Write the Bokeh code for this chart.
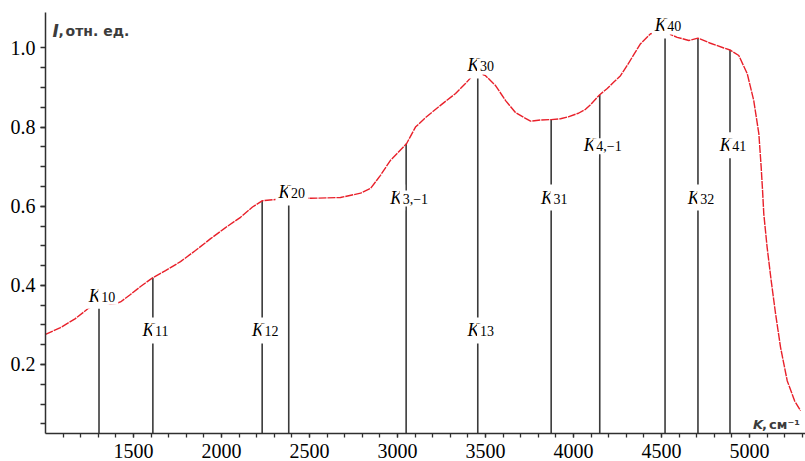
from bokeh.plotting import figure
from bokeh.models import ColumnDataSource, FixedTicker, Label, Range1d
from bokeh.core.properties import value
from bokeh.embed import file_html
from bokeh.resources import INLINE

# ---- data ----
wavenumber = [1000, 1085, 1170, 1244, 1301, 1340, 1369, 1400, 1426, 1483, 1540, 1608,
              1682, 1767, 1852, 1938, 2023, 2108, 2176, 2233, 2307, 2386, 2506, 2676,
              2790, 2847, 2903, 2960, 3051, 3102, 3159, 3244, 3330, 3386, 3426, 3456,
              3500, 3557, 3614, 3670, 3727, 3756, 3812, 3873, 3926, 3970, 4028, 4068,
              4097, 4149, 4190, 4229, 4267, 4305, 4345, 4381, 4438, 4520, 4589, 4655,
              4707, 4778, 4854, 4889, 4939, 4987, 5024, 5053, 5066, 5074, 5081, 5100,
              5123, 5148, 5176, 5214, 5256, 5290]
intensity = [0.276, 0.293, 0.316, 0.342, 0.354, 0.356, 0.352, 0.354, 0.358, 0.377, 0.397, 0.419,
             0.437, 0.460, 0.488, 0.518, 0.546, 0.572, 0.598, 0.614, 0.617, 0.620, 0.620, 0.622,
             0.633, 0.645, 0.678, 0.716, 0.758, 0.800, 0.824, 0.855, 0.885, 0.910, 0.930, 0.937,
             0.930, 0.905, 0.867, 0.837, 0.822, 0.815, 0.818, 0.819, 0.821, 0.826, 0.835, 0.845,
             0.857, 0.882, 0.897, 0.914, 0.930, 0.956, 0.985, 1.011, 1.036, 1.040, 1.027, 1.019,
             1.025, 1.012, 1.000, 0.995, 0.981, 0.935, 0.867, 0.783, 0.700, 0.640, 0.581, 0.496,
             0.412, 0.328, 0.244, 0.159, 0.108, 0.083]

# vertical marker lines: position and the curve value at their top
line_k = [1304, 1610, 2231, 2382, 3049, 3456, 3873, 4149, 4520, 4707, 4889]
line_top = [0.354, 0.419, 0.614, 0.619, 0.758, 0.937, 0.819, 0.882, 1.040, 1.025, 0.995]

# labels K_sub
label_sub = ["10", "11", "12", "20", "3,\u22121", "13", "30", "31", "4,\u22121", "40", "32", "41"]
label_x = [1304, 1610, 2231, 2382, 3049, 3456, 3456, 3873, 4149, 4520, 4707, 4889]
label_y = [0.374, 0.286, 0.286, 0.635, 0.622, 0.286, 0.956, 0.622, 0.754, 1.057, 0.622, 0.754]

x_major = [1500, 2000, 2500, 3000, 3500, 4000, 4500, 5000]
x_labels = ["1500", "2000", "2500", "3000", "3500", "4000", "4500", "5000"]
x_minor = list(range(1100, 5400, 100))
y_major = [0.2, 0.4, 0.6, 0.8, 1.0]
y_labels = ["0.2", "0.4", "0.6", "0.8", "1.0"]
y_minor = [round(0.05 * i, 2) for i in range(1, 20)]

y_title = "\u043e\u0442\u043d. \u0435\u0434."
x_title = "\u0441\u043c\u207b\u00b9"

# ---- layout ----
Y0, Y1 = 0.0255, 1.0897
X0, X1 = 1000, 5318

p = figure(width=805, height=461, output_backend="svg", toolbar_location=None,
           x_range=Range1d(X0, X1), y_range=Range1d(Y0, Y1),
           min_border_left=45, min_border_right=0, min_border_top=12, min_border_bottom=28)
p.outline_line_color = None
p.grid.visible = False
p.background_fill_color = "white"

AX = "#2f2f2f"
for ax in (p.xaxis[0], p.yaxis[0]):
    ax.axis_line_color = AX
    ax.axis_line_width = 1.5
    ax.major_tick_line_color = AX
    ax.minor_tick_line_color = AX
    ax.major_tick_line_width = 1.3
    ax.minor_tick_line_width = 1.3
    ax.major_tick_in = 0
    ax.minor_tick_in = 0
    ax.major_label_text_font = "Liberation Serif"
    ax.major_label_text_font_size = "20px"
    ax.major_label_text_color = "black"

p.xaxis.ticker = FixedTicker(ticks=x_major, minor_ticks=x_minor)
p.xaxis.major_label_overrides = dict(zip(x_major, x_labels))
p.xaxis.major_tick_out = 4
p.xaxis.minor_tick_out = 4
p.xaxis.major_label_standoff = 6

p.yaxis.ticker = FixedTicker(ticks=y_major, minor_ticks=y_minor)
p.yaxis.major_label_overrides = dict(zip(y_major, y_labels))
p.yaxis.major_tick_out = 5
p.yaxis.minor_tick_out = 5
p.yaxis.major_label_standoff = 5

# vertical lines
p.segment(x0=line_k, y0=[Y0] * len(line_k), x1=line_k, y1=line_top,
          line_color="#3a3a3a", line_width=1.6)

# spectrum curve
p.line(wavenumber, intensity, line_color="#e8202a", line_width=1.4, line_dash="8 1")

# K labels: italic K + subscript
def sub_width(s):
    w = 0.0
    for ch in s:
        w += {",": 3.5, "\u2212": 7.9}.get(ch, 7.0)
    return w

K_W = 12.5
widths = [K_W + sub_width(s) for s in label_sub]
src = ColumnDataSource(dict(x=label_x, y=label_y, sub=label_sub,
                            kx=[-w / 2 for w in widths],
                            sx=[-w / 2 + K_W for w in widths]))
p.text(x="x", y="y", text=value("K"), x_offset="kx", source=src,
       text_font=value("Liberation Serif"), text_font_style="italic",
       text_font_size="18px", text_color="black", text_align="left",
       text_baseline="alphabetic", background_fill_color="white", padding=3)
p.text(x="x", y="y", text="sub", x_offset="sx", y_offset=1, source=src,
       text_font=value("Liberation Serif"), text_font_size="14px",
       text_color="black", text_align="left", text_baseline="alphabetic",
       background_fill_color="white", padding=3)

# axis titles
TC = "#3c3c3c"
p.add_layout(Label(x=1040, y=1.044, text="I", text_font="DejaVu Sans",
                   text_font_style="bold italic", text_font_size="17px",
                   text_color=TC, text_baseline="alphabetic"))
p.add_layout(Label(x=1040, y=1.044, x_offset=6, text=",", text_font="DejaVu Sans",
                   text_font_style="bold", text_font_size="14px",
                   text_color=TC, text_baseline="alphabetic"))
p.add_layout(Label(x=1040, y=1.044, x_offset=13, text=y_title, text_font="DejaVu Sans",
                   text_font_style="bold", text_font_size="14px",
                   text_color=TC, text_baseline="alphabetic"))

p.add_layout(Label(x=5020, y=0.048, text="K", text_font="DejaVu Sans",
                   text_font_style="bold italic", text_font_size="13px",
                   text_color=TC, text_baseline="alphabetic"))
p.add_layout(Label(x=5020, y=0.048, x_offset=9, text=",", text_font="DejaVu Sans",
                   text_font_style="bold", text_font_size="13px",
                   text_color=TC, text_baseline="alphabetic"))
p.add_layout(Label(x=5020, y=0.048, x_offset=16, text=x_title, text_font="DejaVu Sans",
                   text_font_style="bold", text_font_size="13px",
                   text_color=TC, text_baseline="alphabetic"))

open("out.html", "w").write(file_html(p, INLINE))
